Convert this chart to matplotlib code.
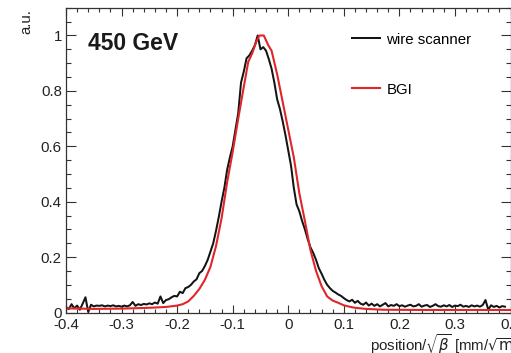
import numpy as np
import matplotlib
matplotlib.use("Agg")
import matplotlib.pyplot as plt
from matplotlib.ticker import MultipleLocator

plt.rcParams['font.family'] = ['Liberation Sans', 'DejaVu Sans']
plt.rcParams['mathtext.fontset'] = 'dejavusans'

# wire scanner profile, sampled every 0.005 from -0.400 to 0.390
wire_start, wire_stop = -0.400, 0.390
wire = [
    0.020, 0.012, 0.030, 0.015, 0.025, 0.010, 0.032, 0.055, 0.002, 0.028,
    0.022, 0.025, 0.024, 0.026, 0.022, 0.025, 0.023, 0.026, 0.022, 0.024,
    0.021, 0.025, 0.022, 0.026, 0.038, 0.024, 0.030, 0.027, 0.031, 0.029,
    0.033, 0.030, 0.036, 0.032, 0.058, 0.034, 0.045, 0.048, 0.055, 0.060,
    0.058, 0.075, 0.070, 0.088, 0.092, 0.100, 0.112, 0.120, 0.142, 0.150,
    0.168, 0.190, 0.220, 0.250, 0.295, 0.345, 0.400, 0.450, 0.515, 0.560,
    0.600, 0.660, 0.720, 0.830, 0.870, 0.918, 0.928, 0.945, 0.965, 1.000,
    0.950, 0.958, 0.945, 0.915, 0.880, 0.830, 0.770, 0.735, 0.690, 0.640,
    0.585, 0.530, 0.450, 0.390, 0.365, 0.330, 0.300, 0.265, 0.235, 0.215,
    0.190, 0.160, 0.140, 0.118, 0.100, 0.088, 0.078, 0.072, 0.065, 0.060,
    0.052, 0.045, 0.040, 0.046, 0.035, 0.042, 0.032, 0.028, 0.036, 0.025,
    0.032, 0.024, 0.030, 0.022, 0.028, 0.034, 0.022, 0.027, 0.024, 0.030,
    0.023, 0.026, 0.021, 0.025, 0.028, 0.022, 0.024, 0.030, 0.021, 0.025,
    0.027, 0.020, 0.024, 0.030, 0.023, 0.021, 0.026, 0.022, 0.027, 0.020,
    0.025, 0.023, 0.028, 0.021, 0.024, 0.020, 0.026, 0.022, 0.025, 0.021,
    0.027, 0.045, 0.010, 0.026, 0.020, 0.024, 0.018, 0.023, 0.021,
]

# BGI profile
bgi_x = [-0.40, -0.35, -0.30, -0.25, -0.22, -0.20, -0.19, -0.18, -0.17, -0.16,
         -0.15, -0.14, -0.13, -0.12, -0.11, -0.10, -0.09, -0.08, -0.072, -0.065,
         -0.058, -0.052, -0.044, -0.036, -0.030, -0.020, -0.010, 0.000, 0.010, 0.020,
         0.030, 0.040, 0.050, 0.060, 0.070, 0.080, 0.090, 0.100, 0.110, 0.120,
         0.140, 0.170, 0.250, 0.400]
bgi_y = [0.015, 0.013, 0.014, 0.017, 0.020, 0.025, 0.030, 0.040, 0.060, 0.085,
         0.118, 0.165, 0.240, 0.340, 0.470, 0.580, 0.700, 0.815, 0.905, 0.935,
         0.975, 1.000, 1.000, 0.965, 0.945, 0.860, 0.760, 0.660, 0.560, 0.430,
         0.330, 0.225, 0.150, 0.095, 0.058, 0.043, 0.035, 0.026, 0.021, 0.017,
         0.013, 0.010, 0.009, 0.009]

labels = ["wire scanner", "BGI"]
title = "450 GeV"

wire_x = np.linspace(wire_start, wire_stop, len(wire))

fig = plt.figure(figsize=(5.11, 3.53), dpi=100)
ax = fig.add_axes([66 / 511, 1 - 312.5 / 353, 444.5 / 511, 304.7 / 353])

ax.plot(wire_x, wire, color='#141414', lw=1.45, label=labels[0])
ax.plot(bgi_x, bgi_y, color='#e0262a', lw=1.5, label=labels[1])

ax.set_xlim(-0.4, 0.4)
ax.set_ylim(0, 1.1)
ax.xaxis.set_major_locator(MultipleLocator(0.1))
ax.xaxis.set_minor_locator(MultipleLocator(0.02))
ax.yaxis.set_major_locator(MultipleLocator(0.2))
ax.yaxis.set_minor_locator(MultipleLocator(0.05))
ax.xaxis.set_major_formatter(plt.FuncFormatter(lambda v, p: '%g' % round(v, 2)))
ax.yaxis.set_major_formatter(plt.FuncFormatter(lambda v, p: '%g' % round(v, 2)))

ax.tick_params(axis='both', which='both', direction='in', top=True, right=True,
               labelsize=10.8, colors='#333333', labelcolor='#222222', width=0.8)
ax.tick_params(axis='x', which='major', length=6, pad=4)
ax.tick_params(axis='x', which='minor', length=3)
ax.tick_params(axis='y', which='major', length=7.5, pad=3)
ax.tick_params(axis='y', which='minor', length=3.8)
for s in ax.spines.values():
    s.set_color('#333333')
    s.set_linewidth(0.9)

ax.set_xlabel(r'position/$\sqrt{\beta}$ [mm/$\sqrt{\mathrm{m}}$]', fontsize=10.8,
              ha='left', va='top', color='#222222')
ax.xaxis.set_label_coords((370 - 66) / 444.5, (312 - 332) / 304.7)
ax.set_ylabel('a.u.', fontsize=10.8, loc='top', color='#222222')
ax.yaxis.set_label_coords((33 - 66) / 444.5, (312 - 9) / 304.7)

ax.text((88 - 66) / 444.5, (312 - 50) / 304.7, title, transform=ax.transAxes,
        fontsize=16.5, fontweight='bold', va='baseline', ha='left', color='#1a1a1a')

ax.legend(loc='upper left', bbox_to_anchor=((352 - 66) / 444.5, (312 - 32) / 304.7),
          frameon=False, fontsize=10.8, handlelength=1.85, handletextpad=0.45,
          labelspacing=2.4, borderpad=0, borderaxespad=0)

fig.savefig('out.png', dpi=100)
